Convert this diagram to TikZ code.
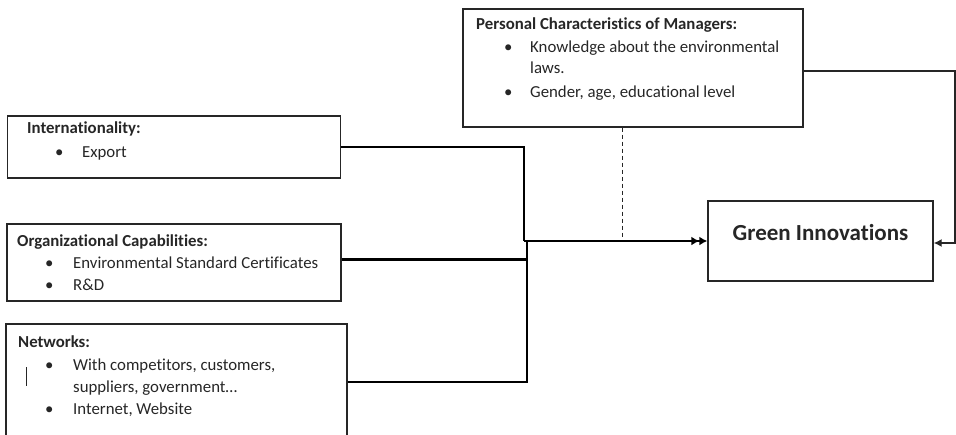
\documentclass[tikz,border=0pt]{standalone}
\usepackage{fontspec}
\setmainfont[Ligatures=NoCommon]{Carlito}
\usetikzlibrary{arrows.meta}
\begin{document}
\begin{tikzpicture}[x=1pt,y=-1pt,
  box/.style={draw=black!85,line width=1.4pt,rectangle,inner sep=0pt},
  txt/.style={anchor=base west,inner sep=0pt,font=\fontsize{16.8}{20}\selectfont,text=black!85},
  ttl/.style={txt,font=\fontsize{16.8}{20}\selectfont\bfseries},
  bul/.style={txt},
  conn/.style={line width=2.8pt,black},
  thinconn/.style={line width=1.3pt,black!85}
]
\useasboundingbox (0,0) rectangle (956,434);
\clip (0,0) rectangle (956,434);
% boxes
\node[box,minimum width=340pt,minimum height=118pt] (pers) at (633,68) {};
\node[box,minimum width=333pt,minimum height=62pt] (intl) at (174,147) {};
\node[box,minimum width=334pt,minimum height=77pt] (org) at (174,262.5) {};
\node[box,minimum width=341pt,minimum height=130pt] (nets) at (176.5,389) {};
\node[box,minimum width=225pt,minimum height=80pt] (green) at (820.5,241) {};
% texts
\node[ttl] (pt) at (476,29) {Personal Characteristics of Managers:};
\node[bul] (pb1) at (504,52) {•};
\node[txt] (p1) at (530,52) {Knowledge about the environmental};
\node[txt] (p2) at (530,73) {laws.};
\node[bul] (pb2) at (504,97) {•};
\node[txt] (p3) at (530,97) {Gender, age, educational level};

\node[ttl] (it) at (27,133) {Internationality:};
\node[bul] (ib1) at (55,157) {•};
\node[txt] (i1) at (82,157) {Export};

\node[ttl] (ot) at (17,246) {Organizational Capabilities:};
\node[bul] (ob1) at (45,268) {•};
\node[txt] (o1) at (73,268) {Environmental Standard Certificates};
\node[bul] (ob2) at (45,290) {•};
\node[txt] (o2) at (73,290) {R\&D};

\node[ttl] (nt) at (18,347) {Networks:};
\node[bul] (nb1) at (45,370) {•};
\node[txt] (n1) at (73,370) {With competitors, customers,};
\node[txt] (n2) at (73,392) {suppliers, government…};
\node[bul] (nb2) at (45,414) {•};
\node[txt] (n3) at (73,414) {Internet, Website};
\coordinate (barT) at (26,367);
\coordinate (barB) at (26,386);
\draw[line width=1pt,black!85] (barT) -- (barB);

\node[anchor=center,inner sep=0pt,font=\fontsize{23}{26}\selectfont\bfseries,text=black!85] (gt) at (820.5,233) {Green Innovations};

% connectors
\coordinate (j1) at (524,241);
\coordinate (j2) at (527,241);
\coordinate (redge) at (955,243);
\draw[conn] (intl.east) -| (j1);
\draw[conn,-{Latex[length=8pt,width=9pt]Latex[length=8pt,width=9pt]}] (j1) -- (green.west);
\draw[conn] ([yshift=3pt]org.east) -- ([yshift=3pt]org.east -| j2);
\draw[conn] ([yshift=7pt]nets.east) -| (j2);
\draw[line width=1pt,black!85,dash pattern=on 4pt off 3pt] (pers.south -| 622,0) -- (622,238);
\draw[thinconn,-{Latex[length=8pt,width=8pt]}] ([yshift=-3pt]pers.east) -| (redge) -- (green.east |- redge);
\end{tikzpicture}
\end{document}
